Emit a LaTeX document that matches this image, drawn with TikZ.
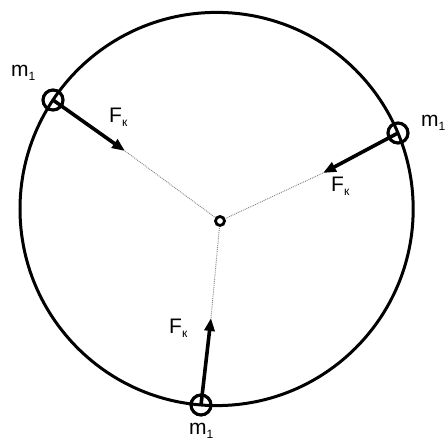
\documentclass[tikz,border=0pt]{standalone}
\usepackage{fontspec}
\setmainfont{Liberation Sans}
\usepackage{tikz}
\usetikzlibrary{arrows.meta, positioning}
\newcommand{\subidx}[2]{#1\raisebox{-0.3ex}{\fontsize{12}{12}\selectfont #2}}

\begin{document}
\begin{tikzpicture}[
            x=1pt, y=-1pt,
            mass/.style={draw, circle, line width=3.2pt, minimum size=20pt, inner sep=0pt},
            hub/.style={draw, circle, line width=2.8pt, minimum size=9pt, inner sep=0pt},
            force/.style={-{Triangle[length=13pt, width=10pt]}, line width=3.6pt},
            link/.style={densely dotted, line width=0.9pt, color=black!50},
            lbl/.style={font=\fontsize{21}{24}\selectfont, inner sep=0pt, anchor=base west},
          ]
          \useasboundingbox (0,0) rectangle (448,443);
          \draw[line width=3pt] (216.6,209) circle (196.6);
          \node[hub] (o) at (220,221) {};
          \node[mass] (mL) at (53,100) {};
          \node[mass] (mR) at (398,133) {};
          \node[mass] (mB) at (201,405) {};
          \coordinate (tL) at (125,151);
          \coordinate (tR) at (323,173);
          \coordinate (tB) at (211,318);
          \draw[force] (mL.center) -- (tL);
          \draw[force] (mR.center) -- (tR);
          \draw[force] (mB.center) -- (tB);
          \draw[link] (tL) -- (o);
          \draw[link] (tR) -- (o);
          \draw[link] (tB) -- (o);
          % labels
          \node[lbl] (fL) at (109,123) {\subidx{F}{к}};
          \node[lbl] (fR) at (331,192) {\subidx{F}{к}};
          \node[lbl] (fB) at (169,334) {\subidx{F}{к}};
          \node[lbl] (nL) at (11,77) {\subidx{m}{1}};
          \node[lbl] (nR) at (421,127) {\subidx{m}{1}};
          \node[lbl] (nB) at (189,435) {\subidx{m}{1}};
        \end{tikzpicture}
\end{document}
